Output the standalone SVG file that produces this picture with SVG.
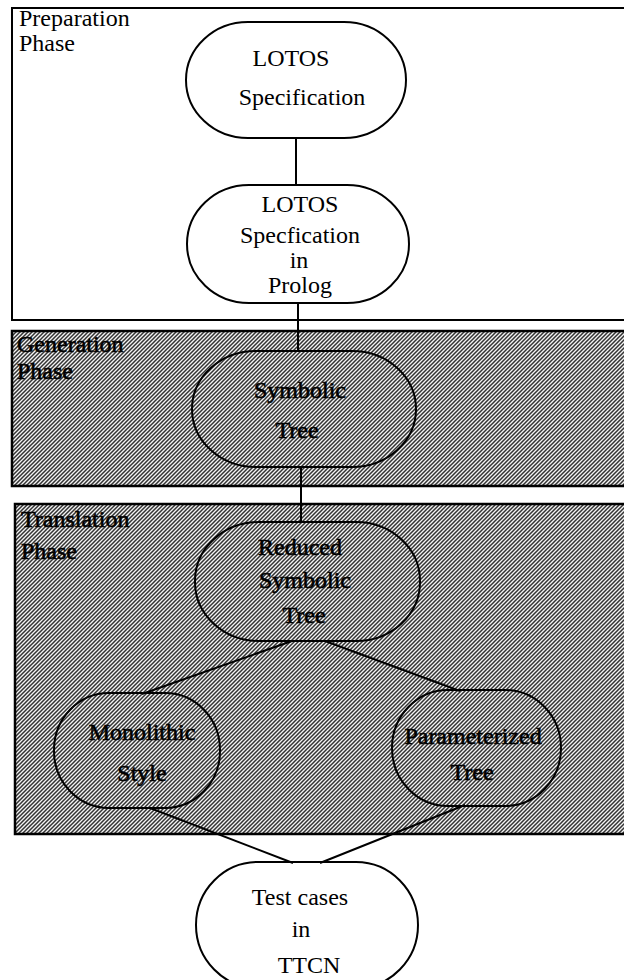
<svg xmlns="http://www.w3.org/2000/svg" width="624" height="980" viewBox="0 0 624 980">
  <style>
    .phase { fill: #fff; stroke: #000; stroke-width: 2; }
    .shaded { fill: url(#hatch); stroke: #000; stroke-width: 2.5; }
    .node { fill: none; stroke: #000; stroke-width: 2; }
    .lbl { font-family: "Liberation Serif", "Times New Roman", serif; font-size: 24px; fill: #000; }
    .ctr { text-anchor: middle; }
    .dark { fill: #000; stroke: #000; stroke-width: 0.6; }
    .edge { stroke: #000; stroke-width: 2; fill: none; }
  </style>
  <defs>
    <!-- fine diagonal halftone used for the shaded phases -->
    <pattern id="hatch" width="4" height="4" patternUnits="userSpaceOnUse">
      <rect width="4" height="4" fill="#f4f4f4"/>
      <path d="M-1,1 L1,-1 M0,4 L4,0 M3,5 L5,3" stroke="#333" stroke-width="1.5"/>
    </pattern>
  </defs>

  <!-- phase panels -->
  <g id="preparation-phase">
    <rect class="phase" x="12" y="8" width="620" height="312"/>
    <text class="lbl" x="19" y="26">Preparation</text>
    <text class="lbl" x="19" y="51">Phase</text>
  </g>
  <g id="generation-phase">
    <rect class="shaded" x="12" y="331" width="620" height="155"/>
    <text class="lbl dark" x="17" y="352">Generation</text>
    <text class="lbl dark" x="17" y="379">Phase</text>
  </g>
  <g id="translation-phase">
    <rect class="shaded" x="15" y="504" width="620" height="330"/>
    <text class="lbl dark" x="21" y="527">Translation</text>
    <text class="lbl dark" x="21" y="559">Phase</text>
  </g>

  <!-- connectors -->
  <g id="connectors">
    <line class="edge" x1="296" y1="138" x2="296" y2="185"/>
    <line class="edge" x1="298" y1="303" x2="298" y2="351"/>
    <line class="edge" x1="301" y1="467" x2="301" y2="522"/>
    <line class="edge" x1="292" y1="641" x2="142" y2="694"/>
    <line class="edge" x1="325" y1="641" x2="460" y2="691"/>
    <line class="edge" x1="150" y1="808" x2="293" y2="863"/>
    <line class="edge" x1="465" y1="805" x2="320" y2="863"/>
  </g>

  <!-- nodes -->
  <g id="lotos-spec">
    <rect class="node" x="186" y="22" width="220" height="116" rx="62" ry="58"/>
    <text class="lbl ctr" x="291" y="66">LOTOS</text>
    <text class="lbl ctr" x="302" y="105">Specification</text>
  </g>
  <g id="lotos-prolog">
    <rect class="node" x="187" y="185" width="222" height="118" rx="62" ry="59"/>
    <text class="lbl ctr" x="300" y="212" font-size="23">LOTOS</text>
    <text class="lbl ctr" x="300" y="243" font-size="23">Specfication</text>
    <text class="lbl ctr" x="299" y="268" font-size="23">in</text>
    <text class="lbl ctr" x="300" y="293" font-size="23">Prolog</text>
  </g>
  <g id="symbolic-tree">
    <rect class="node" x="192" y="351" width="224" height="116" rx="64" ry="58"/>
    <text class="lbl ctr dark" x="300" y="398">Symbolic</text>
    <text class="lbl ctr dark" x="297" y="438">Tree</text>
  </g>
  <g id="reduced-tree">
    <rect class="node" x="195" y="522" width="225" height="119" rx="64" ry="59"/>
    <text class="lbl ctr dark" x="300" y="555">Reduced</text>
    <text class="lbl ctr dark" x="305" y="588">Symbolic</text>
    <text class="lbl ctr dark" x="304" y="623">Tree</text>
  </g>
  <g id="monolithic-style">
    <rect class="node" x="54" y="693" width="166" height="115" rx="55" ry="57"/>
    <text class="lbl ctr dark" x="142" y="740">Monolithic</text>
    <text class="lbl ctr dark" x="142" y="781">Style</text>
  </g>
  <g id="parameterized-tree">
    <rect class="node" x="392" y="690" width="169" height="116" rx="56" ry="58"/>
    <text class="lbl ctr dark" x="473" y="744">Parameterized</text>
    <text class="lbl ctr dark" x="472" y="780">Tree</text>
  </g>
  <g id="ttcn-tests">
    <rect class="node" x="196" y="862" width="222" height="126" rx="62" ry="63" fill="#fff"/>
    <text class="lbl ctr" x="300" y="905">Test cases</text>
    <text class="lbl ctr" x="301" y="937">in</text>
    <text class="lbl ctr" x="309" y="973">TTCN</text>
  </g>
</svg>
